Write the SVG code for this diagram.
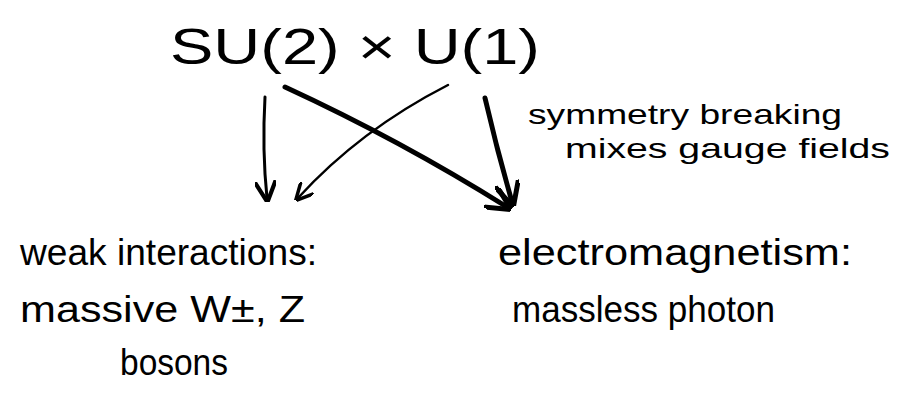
<svg xmlns="http://www.w3.org/2000/svg" width="900" height="408" viewBox="0 0 900 408">
<style>
.t{font-family:"Liberation Sans","DejaVu Sans",sans-serif;fill:#000}
.c{fill:none;stroke:#000;stroke-linecap:round;stroke-linejoin:round}
</style>
<defs>
<marker id="ah" viewBox="0 0 10 10" refX="8" refY="5" markerWidth="5" markerHeight="5" orient="auto" markerUnits="strokeWidth">
<path d="M0,0 L10,5 L0,10" fill="none" stroke="#000" stroke-width="2"/>
</marker>
<marker id="ahs" viewBox="0 0 10 10" refX="8" refY="5" markerWidth="7" markerHeight="7" orient="auto" markerUnits="strokeWidth">
<path d="M0,0 L10,5 L0,10" fill="none" stroke="#000" stroke-width="2"/>
</marker>
</defs>
<rect width="900" height="408" fill="#fff"/>
<g id="title"><text class="t" x="170" y="64" font-size="50" textLength="370" lengthAdjust="spacingAndGlyphs">SU(2) × U(1)</text></g>
<g id="note">
<text class="t" x="528" y="124" font-size="28" textLength="314" lengthAdjust="spacingAndGlyphs">symmetry breaking</text>
<text class="t" x="565" y="158" font-size="28" textLength="325" lengthAdjust="spacingAndGlyphs">mixes gauge fields</text>
</g>
<g id="weak">
<text class="t" x="20" y="265" font-size="36" textLength="297" lengthAdjust="spacingAndGlyphs">weak interactions:</text>
<text class="t" x="20" y="322" font-size="36" textLength="285" lengthAdjust="spacingAndGlyphs">massive W±, Z</text>
<text class="t" x="120" y="375" font-size="36" textLength="108" lengthAdjust="spacingAndGlyphs">bosons</text>
</g>
<g id="em">
<text class="t" x="498" y="265" font-size="36" textLength="354" lengthAdjust="spacingAndGlyphs">electromagnetism:</text>
<text class="t" x="512" y="322" font-size="36" textLength="263" lengthAdjust="spacingAndGlyphs">massless photon</text>
</g>
<g id="connectors">
<path class="c" stroke-width="3" d="M265,97 Q262,150 267,198" marker-end="url(#ahs)"/>
<path class="c" stroke-width="2.5" d="M448,85 Q360,130 298,198" marker-end="url(#ahs)"/>
<path class="c" stroke-width="5" d="M285,87 Q400,140 507,207" marker-end="url(#ah)"/>
<path class="c" stroke-width="5" d="M485,98 Q497,150 512,202" marker-end="url(#ah)"/>
</g>
</svg>
